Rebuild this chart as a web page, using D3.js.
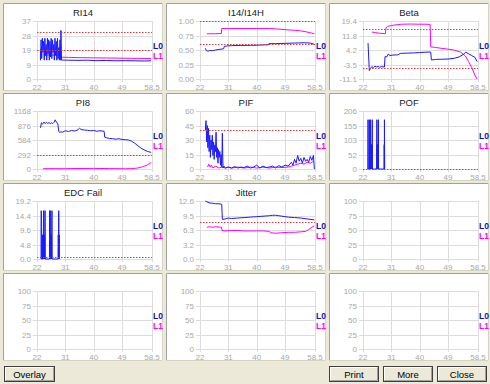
<!DOCTYPE html>
<html>
<head>
<meta charset="utf-8">
<script src="https://cdn.jsdelivr.net/npm/d3@7/dist/d3.min.js"></script>
<style>
  body { margin: 0; background: #ece9d8; }
  svg { display: block; font-family: "Liberation Sans", Arial, sans-serif; }
</style>
</head>
<body>
<svg id="chart" width="490" height="384"></svg>
<script>
// shared x axis
const xTicks = [22, 31, 40, 49, 58.5]

// RI14
const ri14Ticks = ['0', '9', '19', '28', '37']
const ri14Limits = [30, 18.5]
const ri14L0 = [[23.1,19],[23.1,12],[23.3,25],[23.5,13],[23.7,26],[23.9,17],[24.1,24],[24.3,12],[24.5,26],[24.7,15],
  [24.9,22],[25.1,12],[25.3,26],[25.5,16],[25.7,25],[25.9,12],[26.1,24],[26.3,14],[26.5,26],[26.7,13],[26.9,25],
  [27.1,17],[27.3,22],[27.5,12],[27.7,26],[27.9,15],[28.1,24],[28.3,12],[28.5,26],[28.7,13],[28.9,20],[29.1,12],
  [29.3,25],[29.4,12],[29.6,31],[29.8,12],[30.5,12.1],[32,12],[35,11.9],[38,12],[41,11.7],[44,11.8],[47,11.6],
  [50,11.7],[53,11.6],[56,11.5],[58.2,11.6]]
const ri14L1 = [[24.1,15.3],[25,15.2],[26,15.3],[27,15.2],[28,15.3],[29.3,15.2],[29.6,13.9],[32,13.8],[36,13.6],
  [40,13.5],[44,13.4],[48,13.3],[52,13.2],[56,13.1],[58.2,13.0]]

// I14/I14H
const i14Ticks = ['0.00', '0.25', '0.50', '0.75', '1.00']
const i14Limits = [1.0, 0.6]
const i14L0 = [[23.7,0.53],[24,0.49],[24.5,0.48],[25,0.49],[26,0.49],[27,0.50],[28,0.51],[29.5,0.52],[29.7,0.56],
  [30.5,0.57],[32,0.575],[35,0.58],[38,0.58],[41,0.585],[43.7,0.59],[43.9,0.61],[46,0.61],[49,0.615],[52,0.62],
  [55,0.625],[57,0.62],[58.2,0.60]]
const i14L1 = [[24.2,0.78],[25,0.78],[27,0.78],[28.8,0.785],[28.9,0.87],[31,0.87],[35,0.87],[40,0.87],[44,0.87],
  [46,0.865],[49,0.85],[52,0.84],[54,0.83],[56,0.81],[57.5,0.79],[58.3,0.78]]

// Beta
const betaTicks = ['-11.1', '-3.5', '4.2', '11.8', '19.4']
const betaLimits = [15, -5.2]
const betaL0 = [[23.6,7.8],[24.0,-6.7],[24.4,-5.5],[24.8,-4.6],[25.3,-5.2],[25.8,-4.4],[26.3,-4.8],[26.8,-4.5],
  [27.3,-5.0],[27.8,-4.6],[28.8,-4.8],[29.0,0.7],[29.5,0.5],[30.1,2.1],[30.5,1.2],[31.5,1.5],[33,1.6],[34,2.4],
  [36,2.5],[38,2.6],[40,2.8],[42,3.0],[43.5,3.1],[43.7,-1.1],[45,-0.8],[47,-0.7],[49,-0.6],[51,-0.2],[52.5,0.5],
  [54,2.0],[54.6,3.0],[55.5,2.2],[56.5,1.2],[57.5,0.3],[58.2,-1.9]]
const betaL1 = [[24.8,13.6],[26,13.3],[27,13.0],[28,12.9],[29.1,12.7],[29.3,15.8],[29.8,16.6],[31,17.0],[32.5,17.4],
  [34.3,17.7],[37,17.8],[40,17.7],[42,17.7],[43.3,17.6],[43.5,5.8],[45,5.5],[47,5.0],[49,4.6],[51,4.1],[53,3.0],
  [54.5,1.0],[55.5,-2.0],[56.5,-5.0],[57.5,-9.0],[58.2,-11.1]]

// PI8
const pi8Ticks = ['0', '292', '584', '876', '1168']
const pi8Limits = [280]
const pi8L0 = [[23.1,830],[23.4,930],[23.8,905],[24.2,945],[24.6,915],[25,940],[25.4,920],[25.8,935],[26.2,910],
  [26.6,930],[27,915],[27.4,940],[27.8,990],[28.2,935],[28.6,920],[28.9,760],[29.2,735],[29.6,750],[30,740],
  [31,770],[32,755],[33,775],[34,765],[35,790],[35.5,820],[36,795],[37,785],[38,780],[39,770],[40,775],[41,760],
  [42,770],[43.3,760],[43.5,640],[44,630],[45,615],[46,610],[47,600],[48,610],[49,595],[50,590],[51,585],
  [52,560],[53,520],[54,470],[55,420],[56,385],[57,355],[58.2,335]]
const pi8L1 = [[23.9,5],[26,8],[28,6],[31,6],[35,10],[40,12],[45,8],[50,5],[52,8],[54,20],[55.5,45],[57,80],[58.2,130]]

// PIF
const pifTicks = ['0', '15', '30', '45', '60']
const pifLimits = [40]
const pifL0 = [[23.7,40],[23.9,50],[24.1,28],[24.3,45],[24.5,22],[24.7,42],[24.9,18],[25.1,35],[25.3,12],[25.5,30],
  [25.7,20],[25.9,35],[26.1,14],[26.3,28],[26.5,10],[26.7,25],[26.9,18],[27.1,38],[27.3,12],[27.5,22],[27.7,6],
  [27.9,20],[28.1,12],[28.3,18],[28.5,4],[28.7,15],[28.9,2],[29.1,37],[29.3,1],[29.6,3],[30,1],[31,2],[32,1],
  [33,2.5],[34,1],[35,2],[36,1.5],[37,3],[38,1],[39,2],[40,4],[41,1],[42,3],[43,1.5],[44,2],[45,3],[46,1],
  [47,3.5],[48,2],[49,4],[50,3],[51,7],[51.5,4],[52,10],[52.5,6],[53,14],[53.5,8],[54,11],[54.5,6],[55,12],
  [55.5,8],[56,10],[56.5,7],[57,13],[57.5,9],[58,14],[58.3,0]]
const pifL1 = [[24.4,2],[24.8,5],[25.2,2],[25.6,4],[26,1],[27,3],[28,1],[29,2],[30,1],[31,2],[32,1],[34,2],[36,1],
  [38,2],[40,1],[42,2],[44,1],[46,2],[48,1.5],[50,2],[51,3],[52,4],[53,5],[54,6],[55,5],[56,7],[57,6],[58,8]]

// POF
const pofTicks = ['0', '52', '103', '155', '206']
const pofLimits = [0]
const pofL0 = [[23.55,0],[23.6,175],[23.65,0],[23.95,0],[24.05,175],[24.07,86],[24.1,0],[24.15,86],[24.2,0],
  [24.25,86],[24.3,0],[24.35,175],[24.38,86],[24.42,0],[24.47,86],[24.52,0],[24.57,86],[24.62,0],[24.67,86],
  [24.72,0],[24.77,86],[24.82,0],[24.87,86],[24.95,175],[25.0,0],
  [26.35,0],[26.4,175],[26.42,86],[26.46,0],[26.5,86],[26.54,0],[26.58,86],[26.62,0],[26.66,86],[26.7,0],
  [26.74,86],[26.78,0],[26.82,86],[26.9,175],[26.93,0],
  [28.7,0],[28.73,86],[28.77,0],[28.8,175],[28.84,86],[28.88,0]]
const pofL1 = []

// EDC Fail
const edcTicks = ['0.0', '4.8', '9.6', '14.4', '19.2']
const edcLimits = [0.8]
const edcL0 = [[23.3,0],[23.35,16],[23.4,0],[23.75,0],[23.8,8],[23.85,0],[23.9,8],[23.95,0],[24.0,8],[24.1,16],
  [24.13,8],[24.17,0],[24.22,8],[24.27,0],[24.32,8],[24.37,0],[24.42,8],[24.47,0],[24.55,16],[24.6,0],
  [25.95,0],[26.0,16],[26.05,8],[26.1,0],[26.15,8],[26.2,16],[26.25,0],[26.3,8],[26.35,0],[26.4,8],[26.45,0],
  [26.5,8],[26.55,0],[26.6,8],[26.65,0],[26.75,16],[26.8,0],
  [28.7,0],[28.75,8],[28.8,0],[28.85,8],[28.9,16],[28.95,8],[29.0,0],[29.05,8],[29.1,0]]
const edcL1 = []

// Jitter
const jitTicks = ['0.0', '3.2', '6.3', '9.5', '12.6']
const jitLimits = [8]
const jitL0 = [[23.7,12.6],[24.2,12.4],[25,12.2],[26,12.1],[27,12.0],[28,12.0],[28.9,11.9],[29.1,8.6],[30,8.7],
  [31,8.9],[32,8.8],[34,8.9],[36,9.0],[38,9.1],[40,9.2],[42,9.3],[44,9.4],[45,9.5],[46,9.5],[47,9.4],[48,9.3],
  [49,9.2],[50,9.1],[52,9.0],[54,8.9],[56,8.7],[58.3,8.5]]
const jitL1 = [[24.2,6.9],[25,7.0],[26,6.9],[27,7.0],[28.8,6.9],[29.0,6.2],[30,6.1],[32,6.2],[34,6.2],[36,6.1],
  [38,6.1],[40,6.1],[42,6.1],[44,6.0],[44.5,5.7],[46,5.6],[48,5.7],[50,5.8],[52,5.8],[54,5.9],[55.5,6.0],
  [56.5,6.4],[57.5,6.9],[58.3,7.2]]

// empty panels
const emptyTicks = ['0', '25', '50', '75', '100']

const buttons = [['Overlay', 4, 51], ['Print', 329, 50], ['More', 383, 50], ['Close', 437, 50]]

const panels = [
  { title: 'RI14', ticks: ri14Ticks, dom: [0, 37], limits: ri14Limits, l0: ri14L0, l1: ri14L1 },
  { title: 'I14/I14H', ticks: i14Ticks, dom: [0, 1], limits: i14Limits, l0: i14L0, l1: i14L1 },
  { title: 'Beta', ticks: betaTicks, dom: [-11.1, 19.4], limits: betaLimits, l0: betaL0, l1: betaL1 },
  { title: 'PI8', ticks: pi8Ticks, dom: [0, 1168], limits: pi8Limits, l0: pi8L0, l1: pi8L1 },
  { title: 'PIF', ticks: pifTicks, dom: [0, 60], limits: pifLimits, l0: pifL0, l1: pifL1 },
  { title: 'POF', ticks: pofTicks, dom: [0, 206], limits: pofLimits, l0: pofL0, l1: pofL1 },
  { title: 'EDC Fail', ticks: edcTicks, dom: [0, 19.2], limits: edcLimits, l0: edcL0, l1: edcL1 },
  { title: 'Jitter', ticks: jitTicks, dom: [0, 12.6], limits: jitLimits, l0: jitL0, l1: jitL1 },
  { title: '', ticks: emptyTicks, dom: [0, 100], limits: [], l0: [], l1: [] },
  { title: '', ticks: emptyTicks, dom: [0, 100], limits: [], l0: [], l1: [] },
  { title: '', ticks: emptyTicks, dom: [0, 100], limits: [], l0: [], l1: [] },
  { title: '', ticks: emptyTicks, dom: [0, 100], limits: [], l0: [], l1: [] }
]

const svg = d3.select('#chart')
const panelW = 160
const panelH = 88
const margin = { top: 18, right: 11, bottom: 12, left: 34 }
const BLUE = '#1a1aff'
const PINK = '#ff00ff'
const GRID = '#dcdcdc'
const TICK_TXT = '#a8a8a8'

panels.forEach((p, i) => {
    const col = i % 3
    const row = Math.floor(i / 3)
    const g = svg.append('g').attr('transform', `translate(${3 + col * 163},${3 + row * 90})`)

    // sunken panel frame
    g.append('rect').attr('x', 0).attr('y', 0).attr('width', panelW).attr('height', panelH)
        .attr('fill', '#fff')
    g.append('path').attr('d', `M0.5,${panelH - 0.5}V0.5H${panelW - 0.5}`)
        .attr('fill', 'none').attr('stroke', '#a0a0a0')
    g.append('path').attr('d', `M${panelW - 0.5},0.5V${panelH - 0.5}H0.5`)
        .attr('fill', 'none').attr('stroke', '#d8d4c4')

    const x = d3.scaleLinear().domain([22, 58.5]).range([margin.left, panelW - margin.right])
    const y = d3.scaleLinear().domain(p.dom).range([panelH - margin.bottom, margin.top])
    const yVals = p.ticks.map((t, k) => p.dom[0] + k * (p.dom[1] - p.dom[0]) / 4)

    // grid
    g.append('g').selectAll('line').data(xTicks).join('line')
        .attr('x1', (d) => Math.round(x(d)) + 0.5).attr('x2', (d) => Math.round(x(d)) + 0.5)
        .attr('y1', y.range()[1]).attr('y2', y.range()[0] + 3)
        .attr('stroke', GRID)
    g.append('g').selectAll('line').data(yVals).join('line')
        .attr('x1', margin.left - 4).attr('x2', x.range()[1])
        .attr('y1', (d) => Math.round(y(d)) + 0.5).attr('y2', (d) => Math.round(y(d)) + 0.5)
        .attr('stroke', GRID)

    // axis labels
    g.append('g').selectAll('text').data(yVals).join('text')
        .attr('x', margin.left - 6).attr('y', (d) => Math.round(y(d)) + 3)
        .attr('text-anchor', 'end').attr('font-size', 8).attr('fill', TICK_TXT)
        .text((d, k) => p.ticks[k])
    g.append('g').selectAll('text').data(xTicks).join('text')
        .attr('x', (d) => x(d)).attr('y', panelH - 1.5)
        .attr('text-anchor', 'middle').attr('font-size', 8).attr('fill', TICK_TXT)
        .text((d) => d)

    if (p.title) {
        g.append('text').attr('x', panelW / 2).attr('y', 12.5)
            .attr('text-anchor', 'middle').attr('font-size', 9.5).attr('fill', '#222')
            .text(p.title)
    }

    const line = d3.line().x((d) => x(d[0])).y((d) => y(d[1]))
    if (p.l1.length) {
        g.append('path').datum(p.l1).attr('d', line)
            .attr('fill', 'none').attr('stroke', PINK).attr('stroke-width', 1)
    }
    if (p.l0.length) {
        g.append('path').datum(p.l0).attr('d', line)
            .attr('fill', 'none').attr('stroke', BLUE).attr('stroke-width', 1)
    }

    // limit lines
    g.append('g').selectAll('line').data(p.limits).join('line')
        .attr('x1', x.range()[0]).attr('x2', x.range()[1])
        .attr('y1', (d) => Math.round(y(d)) + 0.5).attr('y2', (d) => Math.round(y(d)) + 0.5)
        .attr('stroke', '#e03c3c').attr('stroke-dasharray', '1.5,1.5')

    // legend
    g.append('text').attr('x', 150).attr('y', 46).attr('font-size', 8.5).attr('font-weight', 'bold')
        .attr('fill', '#1010c0').text('L0')
    g.append('text').attr('x', 150).attr('y', 56).attr('font-size', 8.5).attr('font-weight', 'bold')
        .attr('fill', PINK).text('L1')
})

// buttons
const btn = svg.append('g').selectAll('g').data(buttons).join('g')
    .attr('transform', (d) => `translate(${d[1]},366)`)
btn.append('rect').attr('x', 0.5).attr('y', 0.5).attr('width', (d) => d[2] - 1).attr('height', 15)
    .attr('fill', '#ece9d8').attr('stroke', '#404040')
btn.append('path').attr('d', (d) => `M1.5,14.5V1.5H${d[2] - 2.5}`).attr('fill', 'none').attr('stroke', '#fff')
btn.append('path').attr('d', (d) => `M1.5,14.5H${d[2] - 1.5}V1.5`).attr('fill', 'none').attr('stroke', '#a0a0a0')
btn.append('text').attr('x', (d) => d[2] / 2).attr('y', 11.5).attr('text-anchor', 'middle')
    .attr('font-size', 9.5).attr('fill', '#000').text((d) => d[0])
</script>
</body>
</html>
